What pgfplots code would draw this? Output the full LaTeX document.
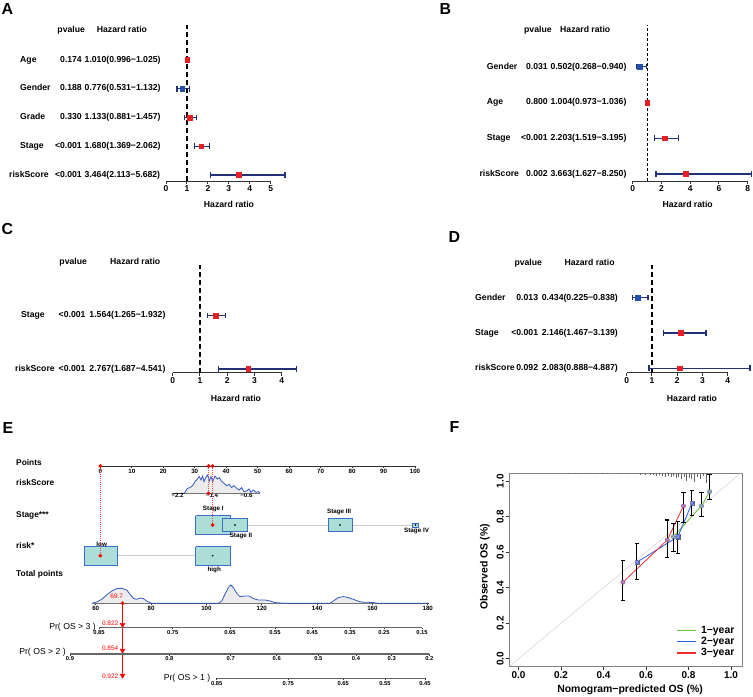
\documentclass[border=0pt]{standalone}
\usepackage{pgfplots}
\usepackage{pgfplotstable}
\pgfplotsset{compat=1.18}
\usepackage{fontspec}
\setmainfont{Liberation Sans}
\newcommand\fs[1]{\fontsize{#1}{#1}\selectfont}
\definecolor{navy}{RGB}{35,50,120}
\definecolor{hrred}{RGB}{232,32,38}
\definecolor{hrblue}{RGB}{35,80,170}
\definecolor{boxfill}{RGB}{170,222,215}
\definecolor{boxdraw}{RGB}{60,110,200}
\definecolor{dens}{RGB}{50,90,200}
\definecolor{calgreen}{RGB}{100,190,60}
\definecolor{calblue}{RGB}{40,95,235}
\definecolor{calred}{RGB}{235,45,45}

\pgfplotsset{
 forest/.style={scale only axis, clip=false, axis x line*=bottom, axis y line=none, ytick=\empty,
   x axis line style={black!80, line width=1bp, -}, tick align=outside, major tick length=3bp,
   xtick style={black!80, line width=1bp},
   xticklabel style={font=\fs{8.5}\bfseries, inner sep=1.5bp},
   /pgf/number format/assume math mode=true},
 hrdash/.style={black, line width=1.8bp, dash pattern=on 5bp off 3bp},
 nomo/.style={scale only axis, clip=false, height=1bp, ymin=0, ymax=1,
   axis x line*=bottom, axis y line=none, ytick=\empty,
   x axis line style={black!80, line width=0.9bp, -}, tick align=outside, major tick length=1.5bp,
   xtick style={black!80, line width=0.7bp},
   xticklabel style={font=\fs{6.2}\bfseries, inner sep=1bp},
   /pgf/number format/assume math mode=true},
 prax/.style={nomo, x axis line style={black!60, line width=1.3bp, -},
   xticklabel style={font=\fs{5.8}\bfseries, inner sep=1bp}},
}

% forest row: caps, whisker, box
\newcommand\forestplot[2]{%
 \addplot[only marks, navy, mark=|, mark size=2.8bp, mark options={line width=1.3bp}] table[x=lo, y=row] {#1};
 \addplot[only marks, navy, mark=|, mark size=2.8bp, mark options={line width=1.3bp}] table[x=hi, y=row] {#1};
 \addplot[#2, only marks, mark=square*, mark size=2.4bp,
   error bars/x dir=both, error bars/x explicit, error bars/error mark=none,
   error bars/error bar style={navy, line width=1.3bp}]
   table[x=hr, y=row, x error plus expr=\thisrow{hi}-\thisrow{hr}, x error minus expr=\thisrow{hr}-\thisrow{lo}] {#1};
}
% calibration series: caps, bars, points
\newcommand\calplot[3]{%
 \addplot[forget plot, only marks, black, mark=-, mark size=2.2bp, mark options={line width=1.1bp}] table[x=x, y=lo] {#1};
 \addplot[forget plot, only marks, black, mark=-, mark size=2.2bp, mark options={line width=1.1bp}] table[x=x, y=hi] {#1};
 \addplot[forget plot, only marks, mark=#3, mark size=2.1bp, mark options={fill=#2, draw=black!60},
   error bars/y dir=both, error bars/y explicit, error bars/error mark=none,
   error bars/error bar style={black, line width=1.1bp}]
   table[x=x, y=y, y error plus expr=\thisrow{hi}-\thisrow{y}, y error minus expr=\thisrow{y}-\thisrow{lo}] {#1};
}

\pgfplotstableread{
row hr lo hi
5 1.010 0.996 1.025
3 1.133 0.881 1.457
2 1.680 1.369 2.062
1 3.464 2.113 5.682
}\Ared
\pgfplotstableread{
row hr lo hi
4 0.776 0.531 1.132
}\Ablue
\pgfplotstableread{
row hr lo hi
3 1.004 0.973 1.036
2 2.203 1.519 3.195
1 3.663 1.627 8.250
}\Bred
\pgfplotstableread{
row hr lo hi
4 0.502 0.268 0.940
}\Bblue
\pgfplotstableread{
row hr lo hi
2 1.564 1.265 1.932
1 2.767 1.687 4.541
}\Cred
\pgfplotstableread{
row hr lo hi
2 2.146 1.467 3.139
1 2.083 0.888 4.887
}\Dred
\pgfplotstableread{
row hr lo hi
3 0.434 0.225 0.838
}\Dblue

\pgfplotstableread{
x y lo hi
0.729 0.688 0.604 0.764
0.861 0.861 0.800 0.936
0.899 0.942 0.895 1.036
}\calone
\pgfplotstableread{
x y lo hi
0.557 0.544 0.448 0.651
0.750 0.688 0.595 0.773
0.816 0.876 0.805 0.948
}\caltwo
\pgfplotstableread{
x y lo hi
0.491 0.431 0.327 0.553
0.700 0.669 0.572 0.782
0.776 0.861 0.770 0.938
}\calthree

\pgfplotstableread{
x h
-2.05 0
-2.026 1.0
-1.972 5.0
-1.910 5.7
-1.849 7.7
-1.794 11.7
-1.740 14.3
-1.694 16.7
-1.655 13.3
-1.617 17.3
-1.586 11.7
-1.547 15.7
-1.501 18.3
-1.462 12.3
-1.423 16.7
-1.385 11.7
-1.330 17.3
-1.276 14.3
-1.230 15.7
-1.176 11.7
-1.122 10.0
-1.060 7.7
-0.998 9.0
-0.944 5.7
-0.890 7.7
-0.828 5.0
-0.766 3.3
-0.712 5.7
-0.658 1.7
-0.596 2.3
-0.542 4.3
-0.495 1.0
-0.441 3.3
-0.379 1.0
-0.325 1.7
-0.286 0
}\riskdens

\pgfplotstableread{
x h
58.5 0
60.35 1.3
62.16 4.0
63.96 8.3
65.77 12.3
67.58 14.7
69.39 15.0
71.19 13.3
72.40 9.0
73.60 5.0
74.81 4.0
76.01 5.3
77.21 4.7
78.42 2.3
80.23 0
104.32 0
105.53 2.3
106.73 9.0
107.93 15.7
108.78 18.3
109.74 15.7
110.95 10.0
112.15 6.7
113.96 7.3
115.41 7.3
116.97 4.7
118.78 3.3
121.19 3.3
123.0 2.3
124.8 0.7
128.41 0
144.68 0
145.88 2.3
147.69 5.7
149.50 6.7
151.30 5.7
153.11 4.0
154.92 2.0
156.72 1.0
158.53 1.0
160.34 0.7
162.14 0
180.2 0
}\totdens

\begin{document}
\begin{tikzpicture}
\path[use as bounding box] (0bp,0bp) rectangle (753bp,-697bp);

% ================= A =================
\begin{axis}[forest, at={(166bp,-181bp)}, anchor=south west, width=104.7bp, height=156bp,
  xmin=0, xmax=5, ymin=0.79, ymax=6.22, xtick={0,1,2,3,4,5}]
\addplot[hrdash] coordinates {(1,0.79) (1,6.22)};
\forestplot{\Ared}{hrred}
\forestplot{\Ablue}{hrblue}
\end{axis}

% ================= B =================
\begin{axis}[forest, at={(632.7bp,-181bp)}, anchor=south west, width=115bp, height=156bp,
  xmin=0, xmax=8, ymin=0.804, ymax=5.165, xtick={0,2,4,6,8}]
\addplot[black, line width=0.9bp, dash pattern=on 3bp off 2bp] coordinates {(1,0.804) (1,5.165)};
\forestplot{\Bred}{hrred}
\forestplot{\Bblue}{hrblue}
\end{axis}

% ================= C =================
\begin{axis}[forest, at={(172.7bp,-372.7bp)}, anchor=south west, width=109bp, height=107.7bp,
  xmin=0, xmax=4, ymin=0.931, ymax=2.937, xtick={0,1,2,3,4}]
\addplot[hrdash] coordinates {(1,0.931) (1,2.937)};
\forestplot{\Cred}{hrred}
\end{axis}

% ================= D =================
\begin{axis}[forest, at={(626.7bp,-372.7bp)}, anchor=south west, width=101bp, height=107.7bp,
  xmin=0, xmax=4, ymin=0.875, ymax=3.926, xtick={0,1,2,3,4}]
\addplot[hrdash] coordinates {(1,0.875) (1,3.926)};
\forestplot{\Dred}{hrred}
\forestplot{\Dblue}{hrblue}
\end{axis}

% ================= E : nomogram =================
\begin{axis}[nomo, at={(100.3bp,-466bp)}, anchor=south west, width=314.7bp,
  xmin=0, xmax=100, xtick={0,10,20,30,40,50,60,70,80,90,100}]
\addplot[draw=none] coordinates {(0,0)};
\end{axis}

\begin{axis}[nomo, at={(171.7bp,-493.3bp)}, anchor=south west, width=88.3bp,
  xmin=-2.335, xmax=-0.286, xtick={-2.2,-1.4,-0.6}, xticklabels={−2.2,−1.4,−0.6},
  xticklabel style={yshift=2.5bp}]
\addplot[fill=gray!15, draw=none] table[x=x, y=h] {\riskdens} \closedcycle;
\addplot[dens, line width=0.8bp] table[x=x, y=h] {\riskdens};
\end{axis}

\begin{axis}[nomo, at={(92.7bp,-603.3bp)}, anchor=south west, width=336.7bp,
  xmin=58.9, xmax=180.6, xtick={60,80,100,120,140,160,180}]
\addplot[fill=gray!15, draw=none] table[x=x, y=h] {\totdens} \closedcycle;
\addplot[dens, line width=0.8bp] table[x=x, y=h] {\totdens};
\addplot[red, line width=0.9bp] coordinates {(69.7,0) (69.7,-73.4)};
\addplot[only marks, red, mark=*, mark size=1.7bp] coordinates {(69.7,0)};
\addplot[only marks, red, mark=triangle*, mark size=2.8bp, mark options={rotate=180}] coordinates {(69.7,-21.5) (69.7,-47.2) (69.7,-72.2)};
\node[red, font=\fs{6.5}] at (axis cs:67.6,7.3) {69.7};
\node[red, font=\fs{6.5}] at (axis cs:65.2,-20) {0.822};
\node[red, font=\fs{6.5}] at (axis cs:65.2,-45) {0.854};
\node[red, font=\fs{6.5}] at (axis cs:65.2,-73.4) {0.922};
\end{axis}

\begin{axis}[prax, at={(99bp,-627.7bp)}, anchor=south west, width=323bp,
  xmin=61.19, xmax=177.93,
  xtick={61.19,87.83,108.54,124.80,138.28,151.91,164.20,177.93},
  xticklabels={0.85,0.75,0.65,0.55,0.45,0.35,0.25,0.15}]
\addplot[draw=none] coordinates {(100,0)};
\end{axis}

\begin{axis}[prax, at={(70bp,-654bp)}, anchor=south west, width=359.3bp,
  xmin=50.71, xmax=180.56,
  xtick={50.71,86.60,108.79,125.41,140.45,154.07,166.97,180.56},
  xticklabels={0.9,0.8,0.7,0.6,0.5,0.4,0.3,0.2}]
\addplot[draw=none] coordinates {(100,0)};
\end{axis}

\begin{axis}[prax, at={(216.7bp,-678.3bp)}, anchor=south west, width=208.3bp,
  xmin=103.73, xmax=179.01,
  xtick={103.73,129.61,149.48,164.55,179.01},
  xticklabels={0.85,0.75,0.65,0.55,0.45}]
\addplot[draw=none] coordinates {(150,0)};
\end{axis}

% nomogram body: x in points, y in layout units
\begin{axis}[scale only axis, hide axis, clip=false, at={(100.3bp,-570bp)}, anchor=south west,
  width=314.7bp, height=110bp, xmin=0, xmax=100, ymin=-570, ymax=-460]
\addplot[gray!40, line width=1bp] coordinates {(35.7,-525) (100.15,-525)};
\addplot[gray!40, line width=1bp] coordinates {(0,-555.7) (35.7,-555.7)};
% Stage boxes
\addplot[fill=boxfill, draw=boxdraw, line width=0.9bp] coordinates {(30.3,-515.7) (41.2,-515.7) (41.2,-534.3) (30.3,-534.3) (30.3,-515.7)};
\addplot[fill=boxfill, draw=boxdraw, line width=0.9bp] coordinates {(38.9,-518.3) (46.7,-518.3) (46.7,-531.7) (38.9,-531.7) (38.9,-518.3)};
\addplot[fill=boxfill, draw=boxdraw, line width=0.9bp] coordinates {(72.4,-518.3) (80.1,-518.3) (80.1,-531.7) (72.4,-531.7) (72.4,-518.3)};
\addplot[fill=boxfill, draw=boxdraw, line width=0.9bp] coordinates {(99.3,-523.3) (101.0,-523.3) (101.0,-527) (99.3,-527) (99.3,-523.3)};
% risk boxes
\addplot[fill=boxfill, draw=boxdraw, line width=0.9bp] coordinates {(-5.1,-546.7) (5.5,-546.7) (5.5,-565) (-5.1,-565) (-5.1,-546.7)};
\addplot[fill=boxfill, draw=boxdraw, line width=0.9bp] coordinates {(30.3,-546.7) (41.2,-546.7) (41.2,-565) (30.3,-565) (30.3,-546.7)};
% red dotted guide lines
\addplot[red!70, line width=0.8bp, dash pattern=on 0.8bp off 1.2bp] coordinates {(0,-466) (0,-555.7)};
\addplot[red!70, line width=0.8bp, dash pattern=on 0.8bp off 1.2bp] coordinates {(34.4,-466) (34.4,-493.3)};
\addplot[red!70, line width=0.8bp, dash pattern=on 0.8bp off 1.2bp] coordinates {(35.7,-466) (35.7,-525)};
% dots
\addplot[only marks, black, mark=*, mark size=0.6bp] coordinates {(42.8,-525) (76.2,-525) (100.15,-525) (35.7,-555.7)};
\addplot[only marks, red, mark=*, mark size=1.7bp] coordinates {(0,-466) (34.4,-466) (35.7,-466) (34.4,-493.3) (35.7,-525) (0,-555.7)};
% level labels
\node[font=\fs{6.3}\bfseries] at (axis cs:35.9,-509.3) {Stage I};
\node[font=\fs{6.3}\bfseries] at (axis cs:44.7,-535.5) {Stage II};
\node[font=\fs{6.3}\bfseries] at (axis cs:75.9,-512.3) {Stage III};
\node[font=\fs{6.3}\bfseries] at (axis cs:100.5,-531) {Stage IV};
\node[font=\fs{6.3}\bfseries] at (axis cs:0.45,-544) {low};
\node[font=\fs{6.3}\bfseries] at (axis cs:36.2,-570) {high};
\end{axis}

% ================= F : calibration =================
\begin{axis}[scale only axis, at={(509bp,-666bp)}, anchor=south west, width=233.7bp, height=192.7bp,
  xmin=-0.045, xmax=1.055, ymin=-0.041, ymax=1.045,
  axis line style={black!50, line width=0.8bp},
  xtick={0,0.2,0.4,0.6,0.8,1}, ytick={0,0.2,0.4,0.6,0.8,1},
  xticklabels={0.0,0.2,0.4,0.6,0.8,1.0}, yticklabels={0.0,0.2,0.4,0.6,0.8,1.0},
  xtick pos=left, ytick pos=left, tick align=outside, major tick length=3.5bp,
  tick style={black!80, line width=0.8bp},
  ticklabel style={font=\fs{10}\bfseries},
  yticklabel style={rotate=90, anchor=south, inner sep=1.5bp},
  xticklabel style={inner sep=1.5bp},
  xlabel={Nomogram−predicted OS (\%)}, ylabel={Observed OS (\%)},
  label style={font=\fs{10.5}\bfseries},
  xlabel style={at={(axis description cs:0.518,-0.1245)}, anchor=center},
  ylabel style={at={(axis description cs:-0.1027,0.515)}, anchor=center},
  legend style={at={(axis description cs:0.715,0.218)}, anchor=north west, draw=none, fill=none,
    font=\fs{10.5}\bfseries, inner sep=0pt, row sep=-1.5bp,
    nodes={inner xsep=4.5bp}},
  legend cell align=left,
  legend image code/.code={\draw[#1] (0bp,0bp) -- (19bp,0bp);},
]
\addlegendimage{draw=calgreen, line width=1.2bp}
\addlegendentry{1−year}
\addlegendimage{draw=calblue, line width=1.2bp}
\addlegendentry{2−year}
\addlegendimage{draw=calred, line width=1.2bp}
\addlegendentry{3−year}
\addplot[gray!30, line width=0.6bp, forget plot] coordinates {(-0.041,-0.041) (1.045,1.045)};
\addplot[gray!80!black, line width=0.6bp, forget plot, quiver={u=0, v=\thisrow{v}}]
  table[x=x, y expr=1.045] {
x v
0.241 -0.0056
0.265 -0.0056
0.288 -0.0056
0.312 -0.0056
0.335 -0.0056
0.364 -0.0056
0.392 -0.0056
0.420 -0.0056
0.477 -0.0056
0.515 -0.0056
0.548 -0.0056
0.572 -0.011
0.595 -0.011
0.619 -0.011
0.633 -0.011
0.647 -0.017
0.661 -0.011
0.675 -0.017
0.690 -0.023
0.704 -0.017
0.718 -0.023
0.727 -0.017
0.742 -0.028
0.751 -0.023
0.765 -0.034
0.779 -0.023
0.789 -0.045
0.803 -0.028
0.812 -0.034
0.827 -0.051
0.841 -0.023
0.855 -0.034
0.869 -0.017
0.883 -0.056
};
\addplot[forget plot, calgreen, line width=0.8bp] table[x=x, y=y] {\calone};
\addplot[forget plot, calblue, line width=0.8bp] table[x=x, y=y] {\caltwo};
\addplot[forget plot, calred, line width=0.8bp] table[x=x, y=y] {\calthree};
\calplot{\calone}{calgreen}{*}
\calplot{\caltwo}{calblue}{square*}
\calplot{\calthree}{calred}{*}
\addplot[forget plot, only marks, mark=x, mark size=2.6bp, color=blue!40, line width=0.7bp] table[x=x, y=y] {\calone};
\addplot[forget plot, only marks, mark=x, mark size=2.6bp, color=blue!40, line width=0.7bp] table[x=x, y=y] {\caltwo};
\addplot[forget plot, only marks, mark=x, mark size=2.6bp, color=blue!40, line width=0.7bp] table[x=x, y=y] {\calthree};
\end{axis}

% ================= text =================
\begin{scope}[x=1bp, y=-1bp]
\begin{scope}[font=\fs{16}\bfseries]
\node[anchor=west, inner sep=0] at (1.5,9) {A};
\node[anchor=west, inner sep=0] at (439.5,9) {B};
\node[anchor=west, inner sep=0] at (1.5,229.5) {C};
\node[anchor=west, inner sep=0] at (448.5,237.5) {D};
\node[anchor=west, inner sep=0] at (2.5,428.5) {E};
\node[anchor=west, inner sep=0] at (449.5,427.5) {F};
\end{scope}
\begin{scope}[font=\fs{8.7}\bfseries, inner sep=0]
% A
\node[anchor=mid west] at (57.3,30) {pvalue};
\node[anchor=mid west] at (96.7,30) {Hazard ratio};
\node[anchor=mid west] at (20,60) {Age};
\node[anchor=mid west] at (20,88.3) {Gender};
\node[anchor=mid west] at (20,117.3) {Grade};
\node[anchor=mid west] at (20,145.7) {Stage};
\node[anchor=mid west] at (9,175) {riskScore};
\node[anchor=mid east] at (82,60) {0.174};
\node[anchor=mid east] at (82,88.3) {0.188};
\node[anchor=mid east] at (82,117.3) {0.330};
\node[anchor=mid east] at (82,145.7) {<0.001};
\node[anchor=mid east] at (82,175) {<0.001};
\node[anchor=mid west] at (84.5,60) {1.010(0.996−1.025)};
\node[anchor=mid west] at (84.5,88.3) {0.776(0.531−1.132)};
\node[anchor=mid west] at (84.5,117.3) {1.133(0.881−1.457)};
\node[anchor=mid west] at (84.5,145.7) {1.680(1.369−2.062)};
\node[anchor=mid west] at (84.5,175) {3.464(2.113−5.682)};
\node at (229,204) {Hazard ratio};
% B
\node[anchor=mid west] at (524,30) {pvalue};
\node[anchor=mid west] at (560,30) {Hazard ratio};
\node[anchor=mid west] at (486.7,66.7) {Gender};
\node[anchor=mid west] at (486.7,101.7) {Age};
\node[anchor=mid west] at (486.7,137.7) {Stage};
\node[anchor=mid west] at (479.3,174) {riskScore};
\node[anchor=mid east] at (548,66.7) {0.031};
\node[anchor=mid east] at (548,101.7) {0.800};
\node[anchor=mid east] at (548,137.7) {<0.001};
\node[anchor=mid east] at (548,174) {0.002};
\node[anchor=mid west] at (550.3,66.7) {0.502(0.268−0.940)};
\node[anchor=mid west] at (550.3,101.7) {1.004(0.973−1.036)};
\node[anchor=mid west] at (550.3,137.7) {2.203(1.519−3.195)};
\node[anchor=mid west] at (550.3,174) {3.663(1.627−8.250)};
\node at (687.7,204) {Hazard ratio};
% C
\node[anchor=mid west] at (59.3,261.7) {pvalue};
\node[anchor=mid west] at (110,261.7) {Hazard ratio};
\node[anchor=mid west] at (21,315.3) {Stage};
\node[anchor=mid west] at (15,369) {riskScore};
\node[anchor=mid east] at (85.7,315.3) {<0.001};
\node[anchor=mid east] at (85.7,369) {<0.001};
\node[anchor=mid west] at (89.3,315.3) {1.564(1.265−1.932)};
\node[anchor=mid west] at (89.3,369) {2.767(1.687−4.541)};
\node at (236,398.3) {Hazard ratio};
% D
\node[anchor=mid west] at (514.3,262.7) {pvalue};
\node[anchor=mid west] at (564.3,262.7) {Hazard ratio};
\node[anchor=mid west] at (475,297.7) {Gender};
\node[anchor=mid west] at (475,333.3) {Stage};
\node[anchor=mid west] at (475,368.3) {riskScore};
\node[anchor=mid east] at (538.3,297.7) {0.013};
\node[anchor=mid east] at (538.3,333.3) {<0.001};
\node[anchor=mid east] at (538.3,368.3) {0.092};
\node[anchor=mid west] at (541.7,297.7) {0.434(0.225−0.838)};
\node[anchor=mid west] at (541.7,333.3) {2.146(1.467−3.139)};
\node[anchor=mid west] at (541.7,368.3) {2.083(0.888−4.887)};
\node at (692,398.3) {Hazard ratio};
\end{scope}
% E labels
\begin{scope}[font=\fs{8.4}\bfseries, inner sep=0]
\node[anchor=mid west] at (16,462.7) {Points};
\node[anchor=mid west] at (16,483.3) {riskScore};
\node[anchor=mid west] at (16,515) {Stage***};
\node[anchor=mid west] at (16,546) {risk*};
\node[anchor=mid west] at (16,574) {Total points};
\end{scope}
\begin{scope}[font=\fs{8.7}, inner sep=0]
\node[anchor=mid east] at (96,626.7) {Pr( OS > 3 )};
\node[anchor=mid east] at (66,652.3) {Pr( OS > 2 )};
\node[anchor=mid east] at (210.5,677.7) {Pr( OS > 1 )};
\end{scope}
\end{scope}
\end{tikzpicture}
\end{document}
